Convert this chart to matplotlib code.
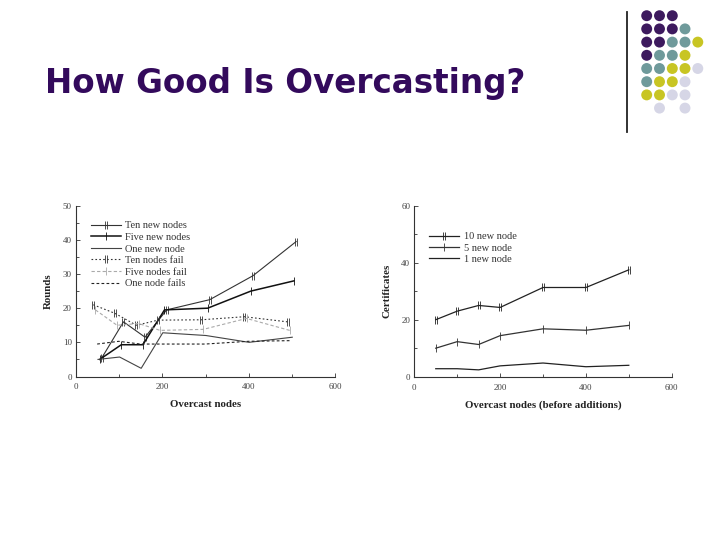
import matplotlib.pyplot as plt
from matplotlib.path import Path
from matplotlib.ticker import MultipleLocator

# left chart: rounds vs overcast nodes
ten_new_x = [60, 110, 160, 210, 310, 410, 510]
ten_new_y = [5.5, 16, 11.5, 19.5, 22.5, 29.5, 39.5]
five_new_x = [55, 105, 155, 205, 305, 405, 505]
five_new_y = [5, 9.3, 9.3, 19.5, 20, 25, 28]
one_new_x = [51, 101, 151, 201, 301, 401, 501]
one_new_y = [5, 5.7, 2.4, 12.8, 12, 10, 11.5]
ten_fail_x = [40, 90, 140, 190, 290, 390, 490]
ten_fail_y = [21, 18.5, 15, 16.5, 16.6, 17.5, 16]
five_fail_x = [45, 95, 145, 195, 295, 395, 495]
five_fail_y = [19.5, 15, 15.5, 13.5, 13.8, 17, 13.5]
one_fail_x = [49, 99, 149, 199, 299, 399, 499]
one_fail_y = [9.5, 10.3, 9.5, 9.5, 9.5, 10.3, 10.5]

# right chart: certificates vs overcast nodes (before additions)
cert_x = [50, 100, 150, 200, 300, 400, 500]
cert_10 = [20, 23, 25, 24.3, 31.3, 31.3, 37.5]
cert_5 = [10, 12.3, 11.3, 14.4, 16.8, 16.3, 18]
cert_1 = [2.8, 2.8, 2.4, 3.8, 4.8, 3.5, 4]

# decoration dots in the top-right corner
dot_rows = ["PPP..", "PPPT.", "PPTTY", "PTTY.", "TTYYL", "TYYL.", "YYLL.", ".L.L."]
dot_colors = {"P": "#3d1a5e", "T": "#6f9a9b", "Y": "#c8c523", "L": "#d6d6e6"}

title_color = "#330a5c"

# two-bar marker and single-bar marker
bar2 = Path([(-0.35, -1), (-0.35, 1), (0.35, -1), (0.35, 1)],
            [Path.MOVETO, Path.LINETO, Path.MOVETO, Path.LINETO])
bar1 = Path([(0, -1), (0, 1)], [Path.MOVETO, Path.LINETO])

serif = ["Liberation Serif", "DejaVu Serif"]

fig = plt.figure(figsize=(7.2, 5.4), dpi=100)

fig.text(45 / 720, 1 - 93 / 540, "How Good Is Overcasting?", color=title_color,
         fontsize=23.5, fontweight="bold", family="DejaVu Sans", va="baseline")

# corner decoration
deco = fig.add_axes([0, 0, 1, 1])
deco.set_xlim(0, 720)
deco.set_ylim(540, 0)
deco.axis("off")
deco.plot([627, 627], [12, 132], color="#222222", lw=1.3)
col_x = [646.7, 659.5, 672.3, 685, 697.8]
for r, row in enumerate(dot_rows):
    for c, code in enumerate(row):
        if code == ".":
            continue
        deco.scatter(col_x[c], 15.7 + r * 13.2, s=62, color=dot_colors[code],
                     edgecolors="none")


def style_axes(ax, xlabel, ylabel, ymax, ymajor, yminor):
    ax.set_xlim(0, 600)
    ax.set_ylim(0, ymax)
    ax.xaxis.set_major_locator(MultipleLocator(200))
    ax.xaxis.set_minor_locator(MultipleLocator(100))
    ax.yaxis.set_major_locator(MultipleLocator(ymajor))
    ax.yaxis.set_minor_locator(MultipleLocator(yminor))
    ax.tick_params(which="both", direction="in", colors="#333333", labelsize=6.5,
                   labelcolor="#444444", width=0.6)
    ax.tick_params(axis="x", pad=5)
    ax.tick_params(axis="y", pad=3)
    ax.tick_params(which="major", length=3)
    ax.tick_params(which="minor", length=2)
    for s in ["top", "right"]:
        ax.spines[s].set_visible(False)
    for s in ["left", "bottom"]:
        ax.spines[s].set_linewidth(0.8)
        ax.spines[s].set_color("#333333")
    for lab in ax.get_xticklabels() + ax.get_yticklabels():
        lab.set_family(serif)
    ax.set_xlabel(xlabel, family=serif, fontweight="bold", fontsize=7.8,
                  color="#222222", labelpad=6)
    ax.set_ylabel(ylabel, family=serif, fontweight="bold", fontsize=7.8,
                  color="#222222", labelpad=7)
    ax.patch.set_alpha(0)


# left chart
ax1 = fig.add_axes([76 / 720, 1 - 376.5 / 540, 259 / 720, 170.8 / 540])
ax1.plot(ten_new_x, ten_new_y, color="#333333", lw=0.8, marker=bar2, ms=6,
         mew=0.6, label="Ten new nodes")
ax1.plot(five_new_x, five_new_y, color="#111111", lw=1.1, marker=bar1, ms=6,
         mew=0.6, label="Five new nodes")
ax1.plot(one_new_x, one_new_y, color="#444444", lw=0.8, label="One new node")
ax1.plot(ten_fail_x, ten_fail_y, color="#333333", lw=0.8, ls=(0, (1.5, 2)),
         marker=bar2, ms=6, mew=0.6, label="Ten nodes fail")
ax1.plot(five_fail_x, five_fail_y, color="#aaaaaa", lw=0.8, ls=(0, (3, 2)),
         marker=bar1, ms=6, mew=0.6, label="Five nodes fail")
ax1.plot(one_fail_x, one_fail_y, color="#222222", lw=0.8, ls=(0, (2.5, 2)),
         label="One node fails")
style_axes(ax1, "Overcast nodes", "Rounds", 50, 10, 5)
ax1.legend(loc="upper left", bbox_to_anchor=(0.02, 0.965), frameon=False,
           prop={"family": serif, "size": 7.5}, handlelength=2.9,
           handletextpad=0.4, labelspacing=0.22, labelcolor="#333333")

# right chart
ax2 = fig.add_axes([414.3 / 720, 1 - 376.7 / 540, 257.4 / 720, 171 / 540])
ax2.plot(cert_x, cert_10, color="#222222", lw=0.9, marker=bar2, ms=6, mew=0.6,
         label="10 new node")
ax2.plot(cert_x, cert_5, color="#333333", lw=0.9, marker=bar1, ms=6, mew=0.6,
         label="5 new node")
ax2.plot(cert_x, cert_1, color="#222222", lw=0.9, label="1 new node")
style_axes(ax2, "Overcast nodes (before additions)", "Certificates", 60, 20, 10)
ax2.legend(loc="upper left", bbox_to_anchor=(0.02, 0.9), frameon=False,
           prop={"family": serif, "size": 7.5}, handlelength=2.9,
           handletextpad=0.5, labelspacing=0.18, labelcolor="#333333")

fig.savefig("out.png", dpi=100)
